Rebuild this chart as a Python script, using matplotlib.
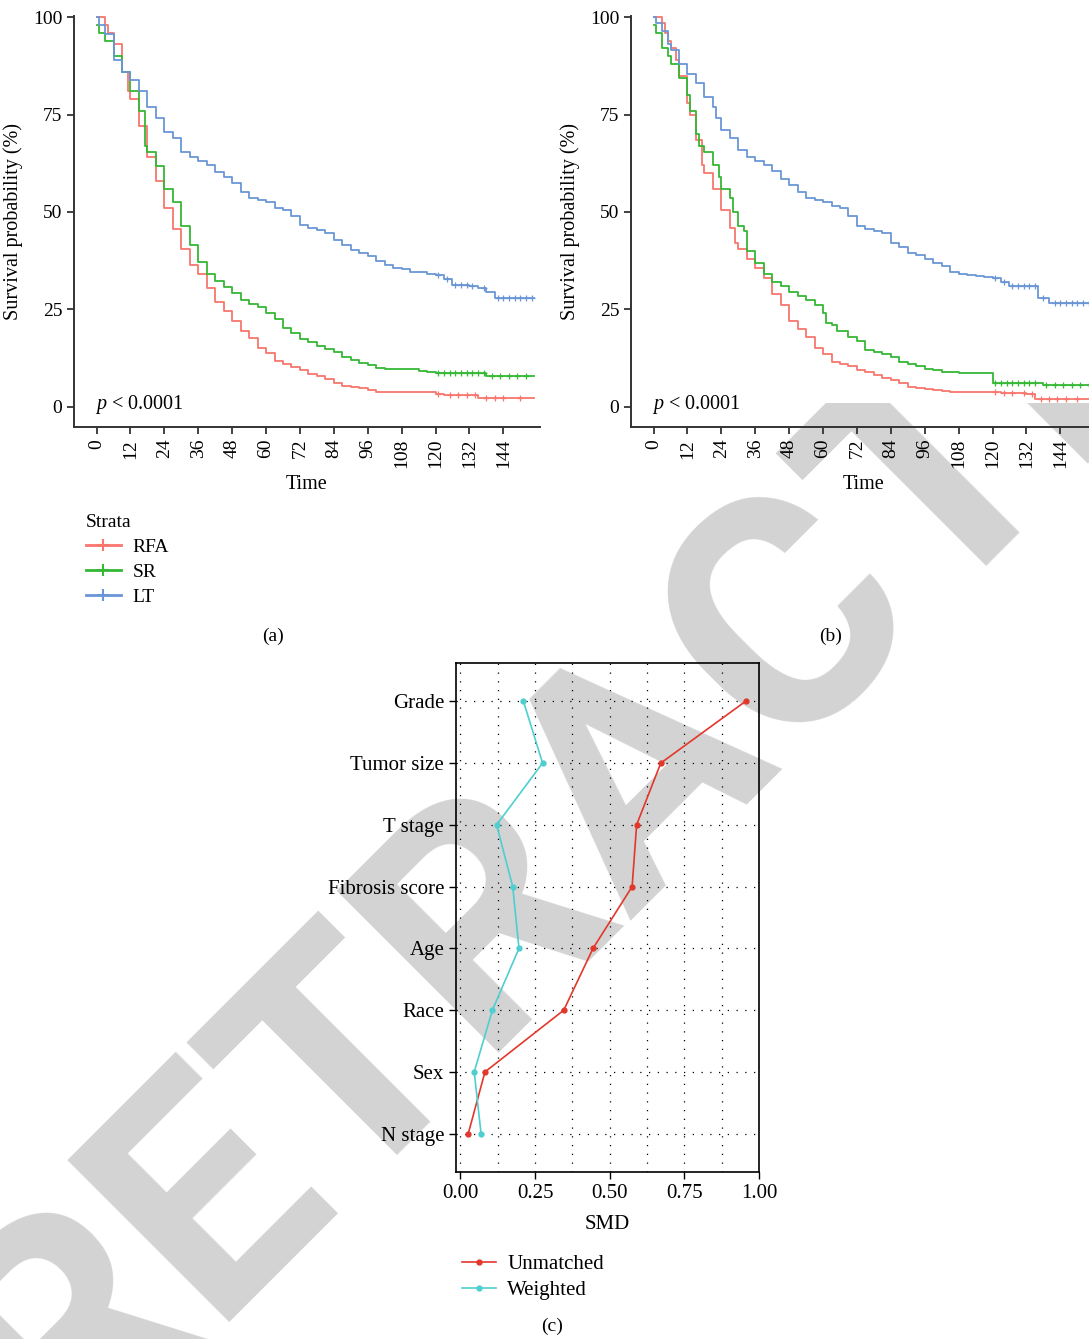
import numpy as np
import matplotlib
matplotlib.use("Agg")
import matplotlib.pyplot as plt
from matplotlib.lines import Line2D

plt.rcParams['font.family'] = ['Liberation Serif', 'DejaVu Serif']
plt.rcParams['mathtext.fontset'] = 'custom'
plt.rcParams['mathtext.rm'] = 'Liberation Serif'
plt.rcParams['mathtext.it'] = 'Liberation Serif:italic'

# Kaplan-Meier curves (time in months, survival in %)
strata = ['RFA', 'SR', 'LT']
km_colors = ['#F8766D', '#35B835', '#6A96D6']

a_rfa_t = [0, 3, 4, 6, 9, 11, 12, 15, 18, 21, 24, 27, 30, 33, 36, 39, 42, 45, 48, 51, 54, 57, 60, 63, 66,
           69, 72, 75, 78, 81, 84, 87, 90, 93, 96, 99, 102, 120, 123, 126, 135, 155]
a_rfa_s = [100, 98, 96, 93, 86, 81, 79, 72, 64, 58, 51, 45.5, 40.5, 36.5, 34, 30.5, 27, 24.5, 22, 19.5, 17.7,
           15.1, 13.8, 11.7, 11, 10.3, 9.4, 8.5, 7.8, 7, 6, 5.2, 5, 4.7, 4.4, 3.9, 3.7, 3.3, 3.0, 2.9, 2.2, 2.2]
a_sr_t = [0, 1, 3, 6, 9, 12, 15, 17, 18, 21, 24, 27, 30, 33, 36, 39, 42, 45, 48, 51, 54, 57, 60, 63, 66, 69,
          72, 75, 78, 81, 84, 87, 90, 93, 96, 99, 102, 114, 117, 120, 138, 155]
a_sr_s = [98, 96, 94, 90, 86, 81, 76, 67, 65.5, 61.7, 56, 52.5, 46.5, 41.4, 37.1, 34.1, 32.4, 30.8, 29.2,
          27.5, 26.3, 25.5, 24, 22.5, 20.3, 19, 17.5, 16.5, 15.5, 14.8, 14, 12.8, 12, 11.3, 10.8, 10, 9.8,
          9.3, 8.8, 8.6, 7.9, 7.9]
a_lt_t = [0, 1, 3, 6, 9, 12, 15, 18, 21, 24, 27, 30, 33, 36, 39, 42, 45, 48, 51, 54, 57, 60, 63, 66, 69, 72,
          75, 78, 81, 84, 87, 90, 93, 96, 99, 102, 105, 108, 111, 114, 117, 120, 123, 126, 132, 135, 138,
          141, 155]
a_lt_s = [100, 98, 95.7, 89, 86, 84, 81, 77, 74, 70.5, 69, 65.5, 64, 63, 62, 60.3, 59, 57.5, 55, 53.5, 53,
          52.6, 50.9, 50.5, 49, 46.7, 45.8, 45.4, 44.5, 42.8, 41.5, 40.3, 39.4, 38.6, 37.3, 36.3, 35.6,
          35.3, 34.7, 34.5, 34.1, 33.9, 32.8, 31.3, 31.1, 30.5, 29.4, 27.9, 27.9]

b_rfa_t = [0, 3, 4, 5, 6, 8, 9, 12, 13, 15, 17, 18, 21, 24, 27, 29, 30, 33, 36, 39, 42, 45, 48, 51, 54, 57,
           60, 63, 66, 69, 72, 75, 78, 81, 84, 87, 90, 93, 96, 99, 102, 105, 120, 123, 132, 135, 155]
b_rfa_s = [100, 98.5, 96, 94, 92, 89, 85, 78, 75, 68.5, 62, 60, 56, 50.5, 46, 42, 40.5, 38, 35.5, 33, 29,
           26, 22, 20, 18, 15, 13.5, 11.5, 10.9, 10.5, 9.4, 8.8, 8.2, 7.5, 6.8, 6, 5, 4.9, 4.6, 4.2, 4,
           3.9, 3.7, 3.5, 3.2, 2.1, 2.1]
b_sr_t = [0, 1, 3, 5, 6, 9, 12, 13, 15, 16, 18, 21, 23, 24, 27, 28, 30, 32, 33, 36, 39, 42, 45, 48, 51, 54,
          57, 60, 61, 63, 65, 69, 72, 75, 78, 81, 84, 87, 90, 93, 96, 99, 102, 105, 108, 120, 138, 155]
b_sr_s = [98, 96, 92, 90, 88, 84.5, 80, 76, 70, 67, 65.5, 62, 59, 56, 53.5, 50, 46.5, 45, 40, 37, 34, 32,
          31, 29.5, 28.5, 27.5, 26, 24, 21.5, 21, 19.5, 18, 17, 14.5, 14, 13.5, 12.8, 11.5, 11, 10.5, 9.8,
          9.4, 9, 8.8, 8.7, 6.1, 5.6, 5.6]
b_lt_t = [0, 1, 3, 5, 6, 9, 12, 15, 18, 21, 22, 24, 27, 30, 33, 36, 39, 42, 45, 48, 51, 54, 57, 60, 63, 66,
          69, 72, 75, 78, 81, 84, 87, 90, 93, 96, 99, 102, 105, 108, 111, 114, 117, 120, 123, 126, 136,
          140, 155]
b_lt_s = [100, 98.5, 96.5, 93, 91.5, 88, 85.5, 83, 79.5, 77, 74, 71, 69, 66, 64, 63, 62, 60.5, 58.5, 57, 55,
          53.5, 53, 52.5, 51.5, 51, 49, 46.5, 45.5, 45, 44.5, 42, 41, 39.5, 39, 38, 37, 36, 34.5, 34, 33.7,
          33.5, 33.3, 33, 32, 31, 28, 26.6, 26.6]

# censoring marks (months)
a_rfa_cens = [121, 125, 128, 131, 134, 138, 141, 144, 150]
a_sr_cens = [121, 123, 125, 127, 129, 131, 133, 135, 137, 140, 143, 146, 149, 152]
a_lt_cens = [121, 124, 127, 129, 131, 133, 137, 142, 144, 146, 148, 150, 152, 154]
b_rfa_cens = [121, 124, 127, 131, 134, 137, 140, 143, 146, 150]
b_sr_cens = [121, 123, 125, 127, 129, 131, 133, 135, 139, 142, 145, 148, 151, 154]
b_lt_cens = [121, 124, 127, 129, 131, 133, 135, 138, 142, 144, 146, 148, 150, 152, 154]

# covariate balance
covariates = ['N stage', 'Sex', 'Race', 'Age', 'Fibrosis score', 'T stage', 'Tumor size', 'Grade']
smd_unmatched = [0.026, 0.082, 0.346, 0.444, 0.575, 0.590, 0.671, 0.955]
smd_weighted = [0.069, 0.046, 0.107, 0.196, 0.175, 0.121, 0.275, 0.211]

km_ticks = list(range(0, 145, 12))

W, H = 1089, 1339
fig = plt.figure(figsize=(W / 100, H / 100), dpi=100)


def fx(px):
    return px / W


def fy(py):
    return 1 - py / H


# watermark, behind everything and cut at the top
wm = fig.add_axes([0, 0, 1, fy(403)], zorder=-1)
wm.set_axis_off()
wm.text(fx(64), fy(1467), 'RETRACTED', transform=fig.transFigure, rotation=45,
        rotation_mode='anchor', ha='left', va='baseline', fontsize=232,
        family='Roboto', fontweight='bold', color='#D3D3D3', clip_on=True)


def km_panel(rect, curves, cens):
    ax = fig.add_axes(rect)
    ax.patch.set_alpha(0)
    for (t, s), c, col in zip(curves, cens, km_colors):
        t = np.asarray(t, float)
        s = np.asarray(s, float)
        ax.step(t, s, where='post', color=col, lw=1.3)
        idx = np.searchsorted(t, c, side='right') - 1
        ax.plot(c, s[idx], ls='none', marker='+', ms=5, mew=0.9, color=col)
    ax.set_xlim(-8, 157)
    ax.set_ylim(-5.2, 100.3)
    ax.set_xticks(km_ticks)
    ax.set_xticklabels([str(v) for v in km_ticks], rotation=90)
    ax.set_yticks([0, 25, 50, 75, 100])
    for side in ['top', 'right']:
        ax.spines[side].set_visible(False)
    for side in ['left', 'bottom']:
        ax.spines[side].set_linewidth(1.4)
        ax.spines[side].set_color('#333333')
    ax.tick_params(labelsize=14, length=5, width=1.3, color='#333333')
    ax.set_xlabel('Time', fontsize=14.5, labelpad=5)
    ax.set_ylabel('Survival probability (%)', fontsize=14.5, labelpad=7)
    ax.text(-0.5, 0.6, '$p$ < 0.0001', fontsize=14.5, va='center', ha='left')
    return ax


km_panel([fx(74), fy(427), fx(466), fy(16) - fy(427)],
         [(a_rfa_t, a_rfa_s), (a_sr_t, a_sr_s), (a_lt_t, a_lt_s)],
         [a_rfa_cens, a_sr_cens, a_lt_cens])
km_panel([fx(631), fy(427), fx(466), fy(16) - fy(427)],
         [(b_rfa_t, b_rfa_s), (b_sr_t, b_sr_s), (b_lt_t, b_lt_s)],
         [b_rfa_cens, b_sr_cens, b_lt_cens])

handles = [Line2D([], [], color=c, lw=2, marker='+', ms=9, mew=1.5) for c in km_colors]
fig.legend(handles, strata, title='Strata', loc='upper left', bbox_to_anchor=(fx(76), fy(504)),
           frameon=False, fontsize=14, title_fontsize=14, handlelength=1.8, handletextpad=0.6,
           labelspacing=0.38, borderpad=0, alignment='left')

# SMD panel
axc = fig.add_axes([fx(456), fy(1172), fx(303), fy(663) - fy(1172)])
axc.patch.set_alpha(0)
ypos = np.arange(1, len(covariates) + 1)
for xv in np.arange(0, 1.001, 0.125):
    axc.axvline(xv, color='black', lw=0.9, ls=(0, (1, 6)), zorder=1)
for yv in ypos:
    axc.axhline(yv, color='black', lw=0.9, ls=(0, (1, 6)), zorder=1)
axc.plot(smd_unmatched, ypos, color='#E3372B', lw=1.2, marker='o', ms=3.5, zorder=3, label='Unmatched')
axc.plot(smd_weighted, ypos, color='#4FCED0', lw=1.2, marker='o', ms=3.5, zorder=3, label='Weighted')
axc.set_xlim(-0.015, 1.0)
axc.set_ylim(0.38, 8.62)
axc.set_yticks(ypos)
axc.set_yticklabels(covariates)
axc.set_xticks([0, 0.25, 0.5, 0.75, 1.0])
axc.set_xticklabels(['0.00', '0.25', '0.50', '0.75', '1.00'])
axc.tick_params(labelsize=15, length=5, width=1.0)
for sp in axc.spines.values():
    sp.set_linewidth(1.2)
axc.set_xlabel('SMD', fontsize=15, labelpad=9)
fig.legend(handles=axc.get_lines()[-2:], loc='upper left', bbox_to_anchor=(fx(452), fy(1244)),
           frameon=False, fontsize=15, handlelength=1.6, handletextpad=0.55, labelspacing=0.3,
           borderpad=0)

fig.text(fx(273), fy(636), '(a)', fontsize=14, ha='center', va='center')
fig.text(fx(831), fy(636), '(b)', fontsize=14, ha='center', va='center')
fig.text(fx(552), fy(1326), '(c)', fontsize=14, ha='center', va='center')

fig.savefig('out.png', dpi=100)
